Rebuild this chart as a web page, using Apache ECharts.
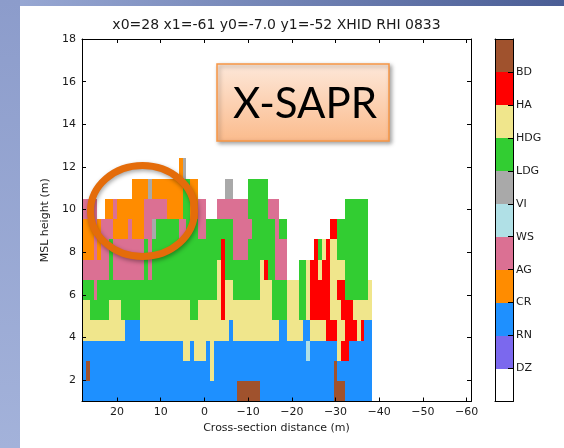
<!DOCTYPE html>
<html>
<head>
<meta charset="utf-8">
<script src="https://cdn.jsdelivr.net/npm/echarts@6/dist/echarts.min.js"></script>
<style>
  html, body { margin: 0; padding: 0; background: #ffffff; }
  #chart { width: 564px; height: 448px; }
</style>
</head>
<body>
<div id="chart"></div>
<script>
// Hydrometeor classes, in colour-bar order (bottom to top)
const classCodes  = ['D', 'R', 'C', 'A', 'W', 'V', 'G', 'Y', 'H', 'B'];
const classNames  = ['DZ', 'RN', 'CR', 'AG', 'WS', 'VI', 'LDG', 'HDG', 'HA', 'BD'];
const classColors = ['#7B68EE', '#1E90FF', '#FF8C00', '#DB7093', '#B0E0E6',
                     '#A9A9A9', '#32CD32', '#F0E68C', '#FF0000', '#A0522D'];
const unclassifiedColor = '#FFFFFF';

// Cross-section grid: 75 columns stepping away from x0, 12 height levels
const xStart = 28, xStep = -0.8853;
const zStart = 1.0, zStep = 0.95;

// Classification per cell, highest level first; '.' = no echo.
// Spaces only group the columns in fives.
const hidRows = [
  '..... ..... ..... ..... ..... CV... ..... ..... ..... ..... ..... ..... ..... ..... .....',
  '..... ..... ...CC CCVCC CCCCC CGGCC ..... ..VV. ...GG GGG.. ..... ..... ..... ..... .....',
  'AAAA. .CCAC CCCCC CAAAA AACCC CGGCC AA... AAAAA AAAGG GGGAA A.... ..... ..... ...GG GGGG.',
  'CCCAC AAACC CCACC CAAVG GGGGG AAGGG AAGGG GGGGA AAAAG GGGGG AGG.. ..... ....H HGGGG GGGG.',
  'CCCAC AAGAA AAAAA AGAGG GGGGG GGGGG GGGGG GHGGA AAAGG GGGGG AAA.. ..... HGYHY YGGGG GGGG.',
  'AAAAA AAGAA AAAAA AGAGG GGGGG GGGGG GGGGG YHGGG GGGGG GYHGG AAA.. .GGYH HYHHY YYYGG GGGG.',
  'GGGAG GGGGG GGGGG GGGGG GGGGG GGGGG GGGGG YHYYG GGGGG GYYYG GGGYY YGGYH HHHHY YHHGG GGGGY',
  'YYGGG GGYYY GGGGG YYYYY YYYYY YYYGG YYYYY YHYYY YYYYY YYYYG GGGYY YGGYH HHHHY YYHHH YYYYY',
  'YYYYY YYYYY YRRRR YYYYY YYYYY YYYYY YYYYY YYYRY YYYYY YYYYY YRRYY YYRRY YYYHH HYYHH HYHRR',
  'RRRRR RRRRR RRRRR RRRRR RRRRR RYYRY YYRYR RRRRR RRRRR RRRRR RRRRR RRRWR RRRRR RYHHR RRRRR',
  'RBRRR RRRRR RRRRR RRRRR RRRRR RRRRR RRRYR RRRRR RRRRR RRRRR RRRRR RRRRR RRRRR BRRRR RRRRR',
  'RRRRR RRRRR RRRRR RRRRR RRRRR RRRRR RRRRR RRRRR BBBBB BRRRR RRRRR RRRRR RRRRR BBBRR RRRRR'
];

// Axis tick spacing and title
const xTickStep = 10, yTickStep = 2;
const titleText = 'x0=28 x1=-61 y0=-7.0 y1=-52 XHID RHI 0833';

// Merge equal neighbouring cells of each level into horizontal runs
const cells = [];
hidRows.forEach(function (rowText, i) {
  const row = rowText.replace(/ /g, '');
  const level = hidRows.length - 1 - i;
  let n = 0;
  while (n < row.length) {
    const code = row[n];
    let m = n;
    while (m + 1 < row.length && row[m + 1] === code) m++;
    if (code !== '.') {
      cells.push([
        xStart + xStep * n,
        xStart + xStep * (m + 1),
        zStart + zStep * level,
        zStart + zStep * (level + 1),
        classCodes.indexOf(code)
      ]);
    }
    n = m + 1;
  }
});

// Colour-bar bands: index 0 is unclassified, then each class
const bandData = [[0, 1, -1]].concat(classNames.map(function (_, i) { return [i + 1, i + 2, i]; }));

const minusFmt = function (v) { return String(v).replace('-', '\u2212'); };
const FONT = 'DejaVu Sans';

function rectItem(api, x0, x1, y0, y1, color) {
  const a = api.coord([x0, y1]);
  const b = api.coord([x1, y0]);
  const left = Math.round(Math.min(a[0], b[0]));
  const right = Math.round(Math.max(a[0], b[0]));
  const top = Math.round(Math.min(a[1], b[1]));
  const bottom = Math.round(Math.max(a[1], b[1]));
  return { type: 'rect', shape: { x: left, y: top, width: right - left, height: bottom - top },
           style: { fill: color } };
}

const axisLineStyle = { show: true, onZero: false, lineStyle: { color: '#000', width: 1 } };
const tickStyle = { show: true, inside: true, length: 4, lineStyle: { color: '#000', width: 1 } };

const chart = echarts.init(document.getElementById('chart'), null, { renderer: 'canvas' });
chart.setOption({
  backgroundColor: '#ffffff',
  animation: false,
  grid: [
    { left: 82, top: 39, width: 389, height: 362.5, outerBoundsMode: 'none' },
    { left: 495, top: 39, width: 18, height: 362.5, outerBoundsMode: 'none' }
  ],
  xAxis: [
    { gridIndex: 0, type: 'value', position: 'bottom', min: -61, max: 28, inverse: true,
      splitNumber: 9, minInterval: xTickStep, maxInterval: xTickStep, z: 10,
      axisLine: axisLineStyle, axisTick: tickStyle, splitLine: { show: false },
      axisLabel: { showMinLabel: false, showMaxLabel: false, color: '#1a1a1a', fontSize: 11,
                   fontFamily: FONT, margin: 5, formatter: minusFmt },
      name: 'Cross-section distance (m)', nameLocation: 'middle', nameGap: 20,
      nameTextStyle: { color: '#1a1a1a', fontSize: 11, fontFamily: FONT } },
    { gridIndex: 0, type: 'value', position: 'top', min: -61, max: 28, inverse: true,
      splitNumber: 9, minInterval: xTickStep, maxInterval: xTickStep, z: 10,
      axisLine: axisLineStyle, axisTick: tickStyle, splitLine: { show: false },
      axisLabel: { show: false } },
    { gridIndex: 1, type: 'value', position: 'bottom', min: 0, max: 1, z: 10,
      axisLine: axisLineStyle, axisTick: { show: false }, axisLabel: { show: false },
      splitLine: { show: false } },
    { gridIndex: 1, type: 'value', position: 'top', min: 0, max: 1, z: 10,
      axisLine: axisLineStyle, axisTick: { show: false }, axisLabel: { show: false },
      splitLine: { show: false } }
  ],
  yAxis: [
    { gridIndex: 0, type: 'value', position: 'left', min: 1, max: 18,
      splitNumber: 9, minInterval: yTickStep, maxInterval: yTickStep, z: 10,
      axisLine: axisLineStyle, axisTick: tickStyle, splitLine: { show: false },
      axisLabel: { showMinLabel: false, color: '#1a1a1a', fontSize: 11, fontFamily: FONT, margin: 6 },
      name: 'MSL height (m)', nameLocation: 'middle', nameGap: 23,
      nameTextStyle: { color: '#1a1a1a', fontSize: 11, fontFamily: FONT } },
    { gridIndex: 0, type: 'value', position: 'right', min: 1, max: 18,
      splitNumber: 9, minInterval: yTickStep, maxInterval: yTickStep, z: 10,
      axisLine: axisLineStyle, axisTick: tickStyle, splitLine: { show: false },
      axisLabel: { show: false } },
    { gridIndex: 1, type: 'value', position: 'right', min: 0, max: 11, interval: 1, z: 10,
      axisLine: axisLineStyle,
      axisTick: { show: true, inside: true, length: 5, lineStyle: { color: '#000', width: 1 } },
      splitLine: { show: false },
      axisLabel: { color: '#1a1a1a', fontSize: 11, fontFamily: FONT, margin: 3,
                   formatter: function (v) { return (v >= 1 && v <= classNames.length) ? classNames[v - 1] : ''; } } },
    { gridIndex: 1, type: 'value', position: 'left', min: 0, max: 11, interval: 1, z: 10,
      axisLine: axisLineStyle, axisTick: { show: false }, axisLabel: { show: false },
      splitLine: { show: false } }
  ],
  series: [
    { type: 'custom', name: 'HID', xAxisIndex: 0, yAxisIndex: 0, data: cells,
      encode: { x: [0, 1], y: [2, 3] },
      renderItem: function (params, api) {
        return rectItem(api, api.value(0), api.value(1), api.value(2), api.value(3), classColors[api.value(4)]);
      } },
    { type: 'custom', name: 'colorbar', xAxisIndex: 2, yAxisIndex: 2, data: bandData,
      encode: { y: [0, 1] },
      renderItem: function (params, api) {
        const k = api.value(2);
        return rectItem(api, 0, 1, api.value(0), api.value(1), k < 0 ? unclassifiedColor : classColors[k]);
      } }
  ],
  graphic: [
    // slide frame
    { type: 'rect', z: -10, shape: { x: 0, y: 0, width: 564, height: 6 },
      style: { fill: new echarts.graphic.LinearGradient(0, 0, 1, 0, [
        { offset: 0, color: '#9aaad5' }, { offset: 1, color: '#4a5d95' }]) } },
    { type: 'rect', z: -10, shape: { x: 0, y: 0, width: 20, height: 448 },
      style: { fill: new echarts.graphic.LinearGradient(0, 0, 0, 1, [
        { offset: 0, color: '#8c9ccb' }, { offset: 1, color: '#a3b2da' }]) } },
    // title
    { type: 'text', z: 20, x: 276.5, y: 25,
      style: { text: titleText, fill: '#1a1a1a', font: '14px "DejaVu Sans"',
               textAlign: 'center', textVerticalAlign: 'middle' } },
    // radar label box
    { type: 'rect', z: 50, shape: { x: 217, y: 64, width: 172, height: 77 },
      style: { fill: new echarts.graphic.LinearGradient(0, 0, 0, 1, [
                 { offset: 0, color: '#fde8da' }, { offset: 1, color: '#fbbb8c' }]),
               stroke: '#f79646', lineWidth: 1.5,
               shadowBlur: 4, shadowOffsetX: 2, shadowOffsetY: 2, shadowColor: 'rgba(0,0,0,0.35)' } },
    { type: 'text', z: 51, x: 305, y: 104,
      style: { text: 'X-SAPR', fill: '#000', font: '42px Lato',
               textAlign: 'center', textVerticalAlign: 'middle' } },
    // highlight ring
    { type: 'ellipse', z: 50, shape: { cx: 142.5, cy: 211, rx: 52, ry: 45.5 },
      style: { fill: null, stroke: '#E46C0A', lineWidth: 7,
               shadowBlur: 4, shadowOffsetX: 1, shadowOffsetY: 2, shadowColor: 'rgba(0,0,0,0.35)' } }
  ]
});
</script>
</body>
</html>
